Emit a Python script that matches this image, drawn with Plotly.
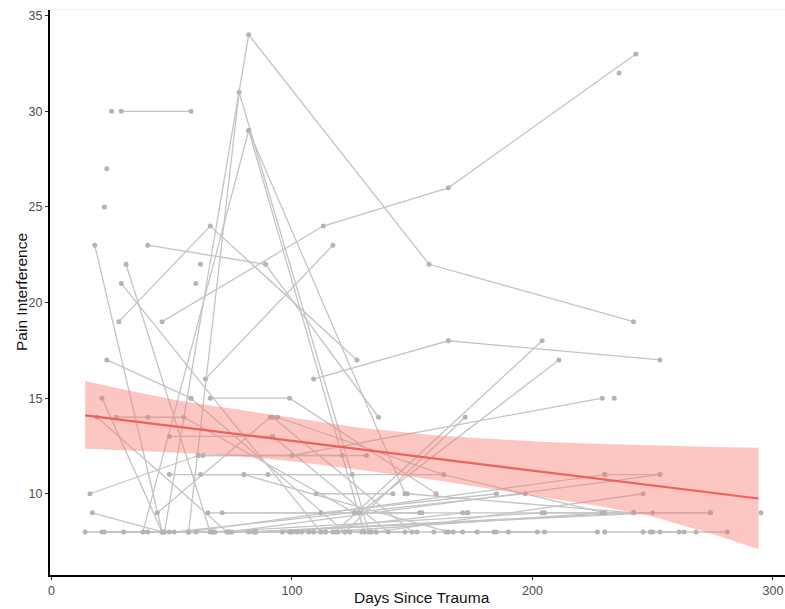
import plotly.graph_objects as go

# ---- subject trajectories (days since trauma, pain interference) ----
subject_days = [
    [29, 58], [25], [23], [22],
    [47, 82, 157, 242], [57, 78, 132], [38, 82, 130], [82, 147],
    [18, 46], [31, 66], [29, 112], [28, 66, 127], [40, 89, 136],
    [46, 113, 165, 243], [236], [64, 117], [23, 58], [109, 165, 253],
    [118, 204], [128, 211], [100, 229], [234], [62], [60],
    [21, 46], [19, 73], [27, 40, 55, 126], [49, 92], [16, 61], [17, 46],
    [44, 91], [58, 122], [66, 99, 160], [92, 150], [94, 163], [92, 140],
    [61, 121], [63, 131], [49, 80], [62, 125], [80, 165], [90, 163, 230],
    [110, 142], [148, 242], [65, 153], [71, 154], [126, 173], [173, 274],
    [204, 242, 274], [295], [122, 172], [230, 253], [112, 185],
    [14, 30, 57], [21, 40, 67], [22, 49, 73], [47, 75, 100], [60, 85, 109],
    [68, 84, 114], [96, 102, 119], [104, 117, 135], [107, 124, 147],
    [112, 129, 152], [133, 159, 184], [164, 177, 190], [167, 185, 202],
    [171, 205, 227], [230, 246, 250], [249, 261, 263], [253, 268, 281],
    [57, 230], [74, 253], [82, 242], [51, 197], [67, 205], [85, 250],
    [99, 171], [114, 229], [135, 246],
]
subject_vals = [
    [30, 30], [30], [27], [25],
    [8, 34, 22, 19], [8, 31, 8], [8, 29, 8], [29, 10],
    [23, 8], [22, 8], [21, 8], [19, 24, 17], [23, 22, 14],
    [19, 24, 26, 33], [32], [16, 23], [17, 15], [16, 18, 17],
    [8, 18], [9, 17], [12, 15], [15], [22], [21],
    [15, 8], [14, 8], [14, 14, 14, 9], [13, 13], [10, 12], [9, 8],
    [9, 14], [15, 8], [15, 15, 10], [14, 8], [14, 11], [13, 8],
    [12, 12], [12, 12], [11, 11], [11, 11], [11, 8], [11, 11, 9],
    [10, 10], [10, 9], [9, 9], [9, 9], [9, 9], [9, 9],
    [9, 9, 9], [9], [8, 14], [11, 11], [9, 10],
    [8, 8, 8], [8, 8, 8], [8, 8, 8], [8, 8, 8], [8, 8, 8],
    [8, 8, 8], [8, 8, 8], [8, 8, 8], [8, 8, 8],
    [8, 8, 8], [8, 8, 8], [8, 8, 8], [8, 8, 8],
    [8, 8, 8], [8, 8, 8], [8, 8, 8], [8, 8, 8],
    [8, 11], [8, 11], [8, 9], [8, 10], [8, 9], [8, 9],
    [8, 9], [8, 9], [8, 10],
]

# ---- model fit and confidence band ----
fit_days = [14, 294]
fit_vals = [14.1, 9.75]
band_days = [14, 30, 53, 80, 100, 128, 160, 203, 230, 250, 275, 294]
band_upper = [15.9, 15.45, 14.86, 14.35, 14.0, 13.45, 13.05, 12.72, 12.6, 12.55, 12.45, 12.4]
band_lower = [12.35, 12.28, 12.15, 11.95, 11.7, 11.25, 10.7, 9.85, 9.3, 8.8, 7.9, 7.1]

x_ticks = [0, 100, 200, 300]
y_ticks = [10, 15, 20, 25, 30, 35]

xs, ys = [], []
for d, v in zip(subject_days, subject_vals):
    xs += d + [None]
    ys += v + [None]

fig = go.Figure()
fig.add_trace(go.Scatter(
    x=xs, y=ys, mode="lines+markers",
    line=dict(color="#c4c4c4", width=1.3),
    marker=dict(color="#b4b4b4", size=5),
    connectgaps=False, hoverinfo="skip", showlegend=False,
))
fig.add_trace(go.Scatter(
    x=band_days + band_days[::-1], y=band_upper + band_lower[::-1],
    fill="toself", fillcolor="rgba(248,118,109,0.42)",
    line=dict(width=0), mode="lines", hoverinfo="skip", showlegend=False,
))
fig.add_trace(go.Scatter(
    x=fit_days, y=fit_vals, mode="lines",
    line=dict(color="#f0605a", width=2.2), showlegend=False,
))

font_family = "Liberation Sans, Arial, sans-serif"
axis_common = dict(
    showgrid=False, zeroline=False, automargin=False,
    showline=True, linecolor="black", linewidth=2,
    ticks="outside", ticklen=3, tickcolor="#333", tickwidth=1,
    tickfont=dict(size=12.5, color="#4d4d4d"),
    ticklabeloverflow="allow",
)
fig.update_layout(
    width=785, height=609,
    margin=dict(l=50, r=0, t=10, b=34),
    paper_bgcolor="white", plot_bgcolor="white",
    font=dict(family=font_family, color="#222"),
    xaxis=dict(range=[-0.62, 305], tickvals=x_ticks, **axis_common),
    yaxis=dict(range=[5.75, 35.3], tickvals=y_ticks, **axis_common),
    annotations=[
        dict(text="Days Since Trauma", xref="paper", yref="paper",
             x=0.506, y=-0.0407, xanchor="center", yanchor="middle",
             showarrow=False, font=dict(size=15.5, color="#111")),
        dict(text="Pain Interference", xref="paper", yref="paper",
             x=-0.038, y=0.501, xanchor="center", yanchor="middle",
             textangle=-90, showarrow=False, font=dict(size=15.5, color="#111")),
    ],
    shapes=[dict(type="line", xref="paper", yref="paper", x0=-0.02, x1=1, y0=1.001, y1=1.001,
                 line=dict(color="#f0f0f0", width=1))],
)

fig.write_html(
    "out.html",
    config={"displayModeBar": False},
    post_script="document.body.style.margin='0';document.body.style.overflow='hidden';",
)
